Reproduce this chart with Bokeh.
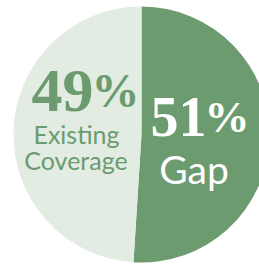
import math
from bokeh.plotting import figure
from bokeh.models import Range1d, ColumnDataSource
from bokeh.core.properties import value
from bokeh.embed import file_html
from bokeh.resources import INLINE

# ---- data ----
categories = ["Gap", "Existing Coverage"]
shares = [51, 49]
pct_numbers = ["51", "49"]
pct_sign = "%"
name_lines = [["Gap"], ["Existing", "Coverage"]]
colors = ["#6b9b6f", "#e2ece3"]
text_colors = ["#ffffff", "#6b9b6f"]

W, H = 259, 264
p = figure(width=W, height=H, output_backend="svg", toolbar_location=None,
           x_range=Range1d(0, W), y_range=Range1d(0, H),
           min_border=0, background_fill_color="white", border_fill_color="white")
p.axis.visible = False
p.grid.visible = False
p.outline_line_color = None

# pie geometry (data y = 264 - page y)
cx, cy, r = 141, H - 134, 128

total = sum(shares)
start = math.pi / 2
starts, ends = [], []
for s in shares:
    a = s / total * 2 * math.pi
    starts.append(start)
    ends.append(start - a)
    start -= a

src = ColumnDataSource(dict(x=[cx] * 2, y=[cy] * 2, start=starts, end=ends,
                            color=colors, cat=categories))
p.wedge(x="x", y="y", radius=r, start_angle="end", end_angle="start",
        direction="anticlock", fill_color="color", line_color=None, source=src)

# labels (layout: split point between number and % sign, baseline)
big_pos = [(205, H - 116), (92, H - 90)]
num_size = ["56px", "62px"]
sign_size = ["45px", "48px"]
sub_pos = [[(193.5, H - 168)], [(76, H - 133), (75.5, H - 159)]]
sub_size = ["39px", "25px"]

for i in range(len(categories)):
    bx, by = big_pos[i]
    p.text(x=[bx + 1], y=[by], text=[pct_numbers[i]], text_align="right",
           text_baseline="alphabetic", text_color=text_colors[i],
           text_font=value("Liberation Serif"), text_font_style="bold",
           text_font_size=num_size[i])
    p.text(x=[bx - 1], y=[by], text=[pct_sign], text_align="left",
           text_baseline="alphabetic", text_color=text_colors[i],
           text_font=value("Liberation Serif"), text_font_style="bold",
           text_font_size=sign_size[i])
    for (sx, sy), line in zip(sub_pos[i], name_lines[i]):
        p.text(x=[sx], y=[sy], text=[line], text_align="center",
               text_baseline="alphabetic", text_color=text_colors[i],
               text_font=value("Lato"), text_font_size=sub_size[i])

open("out.html", "w").write(file_html(p, INLINE))
